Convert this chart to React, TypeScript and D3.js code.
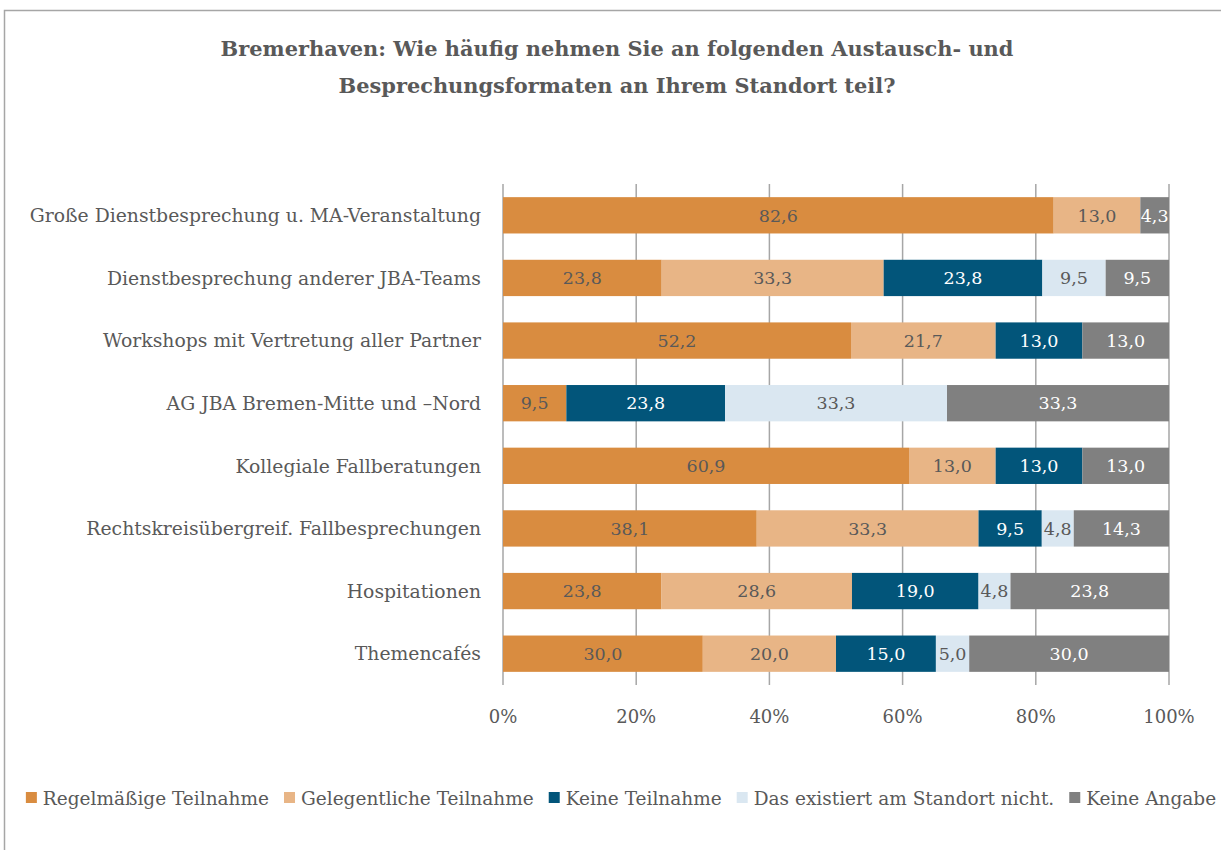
import React, { useEffect, useRef } from "react";
import * as d3 from "d3";

const categories = [
  "Große Dienstbesprechung u. MA-Veranstaltung",
  "Dienstbesprechung anderer JBA-Teams",
  "Workshops mit Vertretung aller Partner",
  "AG JBA Bremen-Mitte und –Nord",
  "Kollegiale Fallberatungen",
  "Rechtskreisübergreif. Fallbesprechungen",
  "Hospitationen",
  "Themencafés",
];
const seriesNames = [
  "Regelmäßige Teilnahme",
  "Gelegentliche Teilnahme",
  "Keine Teilnahme",
  "Das existiert am Standort nicht.",
  "Keine Angabe",
];
const regelmaessig = [82.6, 23.8, 52.2, 9.5, 60.9, 38.1, 23.8, 30.0];
const gelegentlich = [13.0, 33.3, 21.7, 0, 13.0, 33.3, 28.6, 20.0];
const keineTeilnahme = [0, 23.8, 13.0, 23.8, 13.0, 9.5, 19.0, 15.0];
const existiertNicht = [0, 9.5, 0, 33.3, 0, 4.8, 4.8, 5.0];
const keineAngabe = [4.3, 9.5, 13.0, 33.3, 13.0, 14.3, 23.8, 30.0];
const ticks = [0, 20, 40, 60, 80, 100];
const colors = ["#D98C40", "#E8B586", "#02557A", "#DAE7F1", "#808080"];
const labelColors = ["#595959", "#595959", "#FFFFFF", "#595959", "#FFFFFF"];

const FONT = "'DejaVu Serif', serif";

export default function App() {
  const ref = useRef<SVGSVGElement>(null);
  useEffect(() => {
    const svg = d3.select(ref.current);
    svg.selectAll("*").remove();
    const W = 1221, H = 850;
    svg.append("path").attr("d", `M4.5,${H} V10.5 H${W}`).attr("fill", "none").attr("stroke", "#A6A6A6").attr("stroke-width", 1.5);

    const title = svg.append("text").attr("font-family", FONT).attr("font-weight", "bold")
      .attr("font-size", 20.9).attr("fill", "#595959").attr("text-anchor", "middle");
    title.append("tspan").attr("x", 617).attr("y", 56).text("Bremerhaven: Wie häufig nehmen Sie an folgenden Austausch- und");
    title.append("tspan").attr("x", 617).attr("y", 93).text("Besprechungsformaten an Ihrem Standort teil?");

    const seriesVals = [regelmaessig, gelegentlich, keineTeilnahme, existiertNicht, keineAngabe];
    const rows = categories.map((c, i) => {
      const r: any = { cat: c };
      seriesNames.forEach((s, j) => (r[s] = seriesVals[j][i]));
      return r;
    });
    const stack = d3.stack<any>().keys(seriesNames).offset(d3.stackOffsetExpand);
    const stacked = stack(rows);

    const x = d3.scaleLinear().domain([0, 1]).range([503, 1169]);
    const y = d3.scaleBand().domain(categories).range([184, 685]).paddingInner(0.42).paddingOuter(0.21);

    const g = svg.append("g");
    g.selectAll("line.grid").data(ticks).enter().append("line")
      .attr("x1", (d) => x(d / 100)).attr("x2", (d) => x(d / 100))
      .attr("y1", 184).attr("y2", 685).attr("stroke", "#A6A6A6").attr("stroke-width", 1.5);

    stacked.forEach((layer, j) => {
      const lg = g.append("g");
      lg.selectAll("rect").data(layer).enter().append("rect")
        .attr("x", (d) => x(d[0])).attr("width", (d) => Math.max(0, x(d[1]) - x(d[0])))
        .attr("y", (d: any) => y(d.data.cat)!).attr("height", y.bandwidth())
        .attr("fill", colors[j]);
      lg.selectAll("text").data(layer.filter((d: any) => d.data[seriesNames[j]] > 0)).enter().append("text")
        .attr("x", (d) => (x(d[0]) + x(d[1])) / 2)
        .attr("y", (d: any) => y(d.data.cat)! + y.bandwidth() / 2)
        .attr("dy", "0.36em").attr("text-anchor", "middle")
        .attr("font-family", FONT).attr("font-size", 17.5).attr("fill", labelColors[j])
        .text((d: any) => d3.format(".1f")(d.data[seriesNames[j]]).replace(".", ","));
    });

    g.selectAll("text.cat").data(categories).enter().append("text")
      .attr("x", 481).attr("y", (d) => y(d)! + y.bandwidth() / 2).attr("dy", "0.36em")
      .attr("text-anchor", "end").attr("font-family", FONT).attr("font-size", 18.8).attr("fill", "#595959")
      .text((d) => d);

    g.selectAll("text.tick").data(ticks).enter().append("text")
      .attr("x", (d) => x(d / 100)).attr("y", 723).attr("text-anchor", "middle")
      .attr("font-family", FONT).attr("font-size", 18).attr("fill", "#595959")
      .text((d) => d + "%");

    const leg = svg.append("g");
    let cx = 0;
    const items: any[] = [];
    seriesNames.forEach((s, j) => {
      const it = leg.append("g");
      it.append("rect").attr("x", 0).attr("y", -6).attr("width", 11).attr("height", 11).attr("fill", colors[j]);
      const t = it.append("text").attr("x", 17).attr("y", 0).attr("dy", "0.36em")
        .attr("font-family", FONT).attr("font-size", 18.5).attr("fill", "#595959").text(s);
      const w = (t.node() as SVGTextElement).getComputedTextLength();
      items.push({ it, x: cx });
      cx += 17 + w + 15;
    });
    const total = cx - 15;
    const start = 621 - total / 2;
    items.forEach((o) => o.it.attr("transform", `translate(${start + o.x},798)`));
  }, []);
  return (
    <svg ref={ref} width={1221} height={850} style={{ position: "absolute", left: 0, top: 0, display: "block" }} />
  );
}
